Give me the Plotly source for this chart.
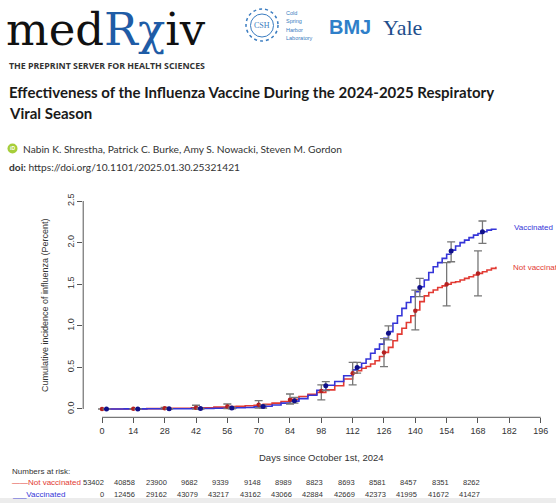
import plotly.graph_objects as go

W, H = 556, 503

def PX(x):
    return x / W

def PY(y):
    return 1 - y / H

# ---------------- data ----------------
curve_days = [0, 10, 20, 30, 40, 50, 56, 60, 64, 68, 72, 76, 80, 84, 88, 92, 96, 100, 104, 108,
              112, 114, 116, 118, 120, 122, 124, 126, 128, 130, 132, 134, 136, 138, 140, 142,
              144, 146, 148, 150, 152, 154, 156, 158, 160, 162, 164, 166, 168, 170, 172, 174, 176]
vacc_curve = [0, 0.001, 0.002, 0.003, 0.005, 0.008, 0.011, 0.014, 0.018, 0.025, 0.033, 0.048,
              0.07, 0.095, 0.125, 0.165, 0.225, 0.285, 0.33, 0.40, 0.47, 0.50, 0.55, 0.60, 0.67,
              0.72, 0.78, 0.85, 0.93, 1.03, 1.12, 1.21, 1.28, 1.35, 1.41, 1.47, 1.55, 1.64, 1.71,
              1.76, 1.81, 1.86, 1.91, 1.96, 2.00, 2.03, 2.06, 2.09, 2.11, 2.13, 2.15, 2.16, 2.17]
unvacc_curve = [0, 0.001, 0.004, 0.008, 0.013, 0.022, 0.028, 0.033, 0.038, 0.045, 0.055, 0.07,
                0.09, 0.115, 0.15, 0.175, 0.20, 0.23, 0.28, 0.36, 0.43, 0.46, 0.49, 0.51, 0.54,
                0.58, 0.63, 0.68, 0.74, 0.82, 0.90, 0.97, 1.04, 1.12, 1.19, 1.29, 1.36, 1.40,
                1.43, 1.46, 1.48, 1.50, 1.52, 1.53, 1.55, 1.57, 1.59, 1.61, 1.63, 1.65, 1.67,
                1.69, 1.71]

vacc_pt_days = [2, 16, 30, 44, 58, 72, 86, 100, 114, 128, 142, 156, 170]
vacc_pt = [0, 0, 0.002, 0.005, 0.012, 0.03, 0.10, 0.28, 0.50, 0.91, 1.46, 1.90, 2.13]
vacc_lo = [0, 0, 0, 0, 0.003, 0.012, 0.07, 0.22, 0.43, 0.83, 1.35, 1.77, 1.99]
vacc_hi = [0, 0, 0.005, 0.01, 0.022, 0.05, 0.14, 0.33, 0.56, 1.00, 1.57, 2.01, 2.26]

unvacc_pt_days = [0, 14, 28, 42, 56, 70, 84, 98, 112, 126, 140, 154, 168]
unvacc_pt = [0, 0.002, 0.008, 0.015, 0.03, 0.05, 0.11, 0.215, 0.43, 0.68, 1.18, 1.50, 1.63]
unvacc_lo = [0, 0, 0, 0, 0.005, 0.01, 0.06, 0.11, 0.29, 0.51, 0.95, 1.24, 1.36]
unvacc_hi = [0, 0.005, 0.02, 0.045, 0.06, 0.10, 0.18, 0.29, 0.56, 0.845, 1.43, 1.76, 1.90]

x_ticks = [0, 14, 28, 42, 56, 70, 84, 98, 112, 126, 140, 154, 168, 182, 196]
y_ticks = [0.0, 0.5, 1.0, 1.5, 2.0, 2.5]

risk_days = [0, 14, 28, 42, 56, 70, 84, 98, 112, 126, 140, 154, 168]
risk_unvacc = [53402, 40858, 23900, 9682, 9339, 9148, 8989, 8823, 8693, 8581, 8457, 8351, 8262]
risk_vacc = [0, 12456, 29162, 43079, 43217, 43162, 43066, 42884, 42669, 42373, 41995, 41672, 41427]

BLUE = "#3535d8"
RED = "#e23a33"
GREY = "#777777"

fig = go.Figure()

fig.add_trace(go.Scatter(x=curve_days, y=unvacc_curve, mode="lines", line=dict(color=RED, width=1.6, shape="hv"),
                         showlegend=False, hoverinfo="skip"))
fig.add_trace(go.Scatter(x=curve_days, y=vacc_curve, mode="lines", line=dict(color=BLUE, width=1.6, shape="hv"),
                         showlegend=False, hoverinfo="skip"))

fig.add_trace(go.Scatter(
    x=unvacc_pt_days, y=unvacc_pt, mode="markers",
    marker=dict(color="#b52020", size=4.5),
    error_y=dict(type="data", symmetric=False,
                 array=[h - v for h, v in zip(unvacc_hi, unvacc_pt)],
                 arrayminus=[v - l for v, l in zip(unvacc_pt, unvacc_lo)],
                 color=GREY, thickness=1.3, width=4),
    showlegend=False))
fig.add_trace(go.Scatter(
    x=vacc_pt_days, y=vacc_pt, mode="markers",
    marker=dict(color="#10108a", size=5),
    error_y=dict(type="data", symmetric=False,
                 array=[h - v for h, v in zip(vacc_hi, vacc_pt)],
                 arrayminus=[v - l for v, l in zip(vacc_pt, vacc_lo)],
                 color=GREY, thickness=1.3, width=4),
    showlegend=False))

# plot area geometry (pixels)
x0_px, x1_px = 83.2, 549.6
y_top_px, y_bot_px = 192.7, 417.3

AX_FONT = dict(family="Liberation Sans, Arial", size=9, color="#333333")

fig.update_layout(
    width=W, height=H, margin=dict(l=0, r=0, t=0, b=0),
    paper_bgcolor="white", plot_bgcolor="white",
    xaxis=dict(domain=[PX(x0_px), PX(x1_px)], range=[-8.4, 200], tickvals=x_ticks,
               ticks="outside", ticklen=5, tickcolor="#555555", tickwidth=1,
               showgrid=False, zeroline=False, showline=False, tickfont=AX_FONT),
    yaxis=dict(domain=[PY(y_bot_px), PY(y_top_px)], range=[-0.1, 2.6], tickvals=y_ticks,
               tickformat=".1f", tickangle=-90,
               ticks="outside", ticklen=5, tickcolor="#555555", tickwidth=1,
               showgrid=False, zeroline=False, showline=False, tickfont=AX_FONT),
)

# R-style axis lines (span only the tick range)
fig.add_shape(type="line", xref="x", yref="paper", x0=0, x1=196, y0=PY(y_bot_px), y1=PY(y_bot_px),
              line=dict(color="#555555", width=1))
fig.add_shape(type="line", xref="paper", yref="y", x0=PX(x0_px), x1=PX(x0_px), y0=0, y1=2.5,
              line=dict(color="#555555", width=1))

ann = []
def text(x, y, s, size, color="#222222", family="Lato, Liberation Sans", anchor="left", **kw):
    ann.append(dict(x=PX(x), y=PY(y), xref="paper", yref="paper", text=s, showarrow=False,
                    xanchor=anchor, yanchor="middle", font=dict(size=size, color=color, family=family), **kw))

# axis titles
text(45, 305, "Cumulative incidence of influenza (Percent)", 9, "#333333", "Liberation Sans, Arial",
     anchor="center", textangle=-90)
ann.append(dict(x=98, y=PY(457), xref="x", yref="paper", text="Days since October 1st, 2024", showarrow=False,
                xanchor="center", yanchor="middle", font=dict(size=9.5, color="#333333", family="Liberation Sans, Arial")))

# curve labels
text(512, 227, "Vaccinated", 8, BLUE, "Liberation Sans, Arial")
text(511, 267, "Not vaccinated", 8, RED, "Liberation Sans, Arial")

# numbers at risk
text(10, 471, "Numbers at risk:", 8, "#333333", "Liberation Sans, Arial")
text(10, 482, "——Not vaccinated", 8, RED, "Liberation Sans, Arial")
text(10, 494, "___Vaccinated", 8, BLUE, "Liberation Sans, Arial")
for d, a, b in zip(risk_days, risk_unvacc, risk_vacc):
    for val, yy in ((a, 482), (b, 494)):
        ann.append(dict(x=d, y=PY(yy), xref="x", yref="paper", text=str(val), showarrow=False,
                        xanchor="right", yanchor="middle", xshift=4,
                        font=dict(size=7.5, color="#333333", family="Liberation Sans, Arial")))

# header
text(4, 30, "med<span style='color:#1f5ca6'>Rχ</span>iv", 45, "#111111", "DejaVu Serif, Liberation Serif")
text(7, 66, "<b>THE PREPRINT SERVER FOR HEALTH SCIENCES</b>", 8.8, "#333333", "Open Sans, Liberation Sans")
text(262, 26, "CSH", 8, "#3a7cc0", "Liberation Serif", anchor="center")
for i, w in enumerate(["Cold", "Spring", "Harbor", "Laboratory"]):
    text(284, 13 + i * 8.3, w, 5.5, "#3a7cc0", "Liberation Sans")
text(327, 27, "<b>BMJ</b>", 20, "#2f7fc9", "Liberation Sans")
text(381, 27, "Yale", 22, "#1f4e8c", "Liberation Serif")
text(7, 92, "<b>Effectiveness of the Influenza Vaccine During the 2024-2025 Respiratory</b>", 15, "#1a1a1a", "Lato")
text(7, 113, "<b>Viral Season</b>", 15, "#1a1a1a", "Lato")
text(21, 149, "Nabin K. Shrestha, Patrick C. Burke, Amy S. Nowacki, Steven M. Gordon", 10.2, "#333333", "Lato")
text(7, 167, "<b>doi:</b> https://doi.org/10.1101/2025.01.30.25321421", 10.2, "#333333", "Lato")
text(12.5, 148.5, "<b>iD</b>", 5, "white", "Liberation Sans", anchor="center")

fig.update_layout(annotations=ann)

# logo shapes
fig.add_shape(type="circle", xref="paper", yref="paper", x0=PX(246), x1=PX(278), y0=PY(41), y1=PY(9),
              line=dict(color="#3a7cc0", width=1.5, dash="dot"))
fig.add_shape(type="circle", xref="paper", yref="paper", x0=PX(250.5), x1=PX(273.5), y0=PY(37), y1=PY(14),
              line=dict(color="#3a7cc0", width=1))
fig.add_shape(type="circle", xref="paper", yref="paper", x0=PX(7.5), x1=PX(17.5), y0=PY(153.5), y1=PY(143.5),
              fillcolor="#a6ce39", line=dict(width=0), layer="below")
fig.add_shape(type="rect", xref="paper", yref="paper", x0=0, x1=1, y0=0, y1=PY(498),
              fillcolor="#ececec", line=dict(width=0), layer="below")

fig.write_html("out.html", config={"displayModeBar": False},
               post_script="document.body.style.margin='0px';document.body.style.overflow='hidden';")
